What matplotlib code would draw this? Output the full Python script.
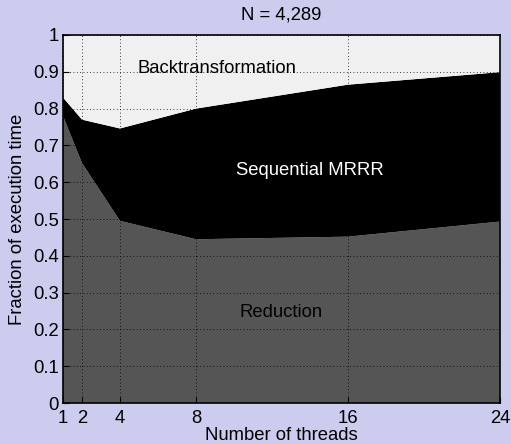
import matplotlib.pyplot as plt

# execution time breakdown, fraction of total (stacked)
threads = [1, 2, 4, 8, 16, 24]
reduction = [0.78, 0.652, 0.495, 0.445, 0.452, 0.493]
mrrr = [0.05, 0.118, 0.251, 0.355, 0.413, 0.406]
backtrans = [0.17, 0.23, 0.254, 0.20, 0.135, 0.101]

plt.rcParams['font.family'] = ['Liberation Sans', 'DejaVu Sans']
plt.rcParams['font.size'] = 13.3

fig = plt.figure(figsize=(5.11, 4.44), dpi=100, facecolor='#ccccee')
ax = fig.add_axes([0.1233, 0.0923, 0.855, 0.8289])

ax.stackplot(threads, reduction, mrrr, backtrans,
             colors=['#555555', '#000000', '#f0f0f0'], linewidth=0)

ax.set_xlim(1, 24)
ax.set_ylim(0, 1)
ax.set_xticks(threads)
ax.set_yticks([i / 10 for i in range(11)])
ax.set_yticklabels(['0', '0.1', '0.2', '0.3', '0.4', '0.5', '0.6', '0.7', '0.8', '0.9', '1'])
ax.tick_params(direction='in', length=4, width=0.8, colors='black')
ax.tick_params(axis='x', pad=5)
ax.tick_params(axis='y', pad=3)
ax.grid(True, color='black', linestyle=(0, (1, 3)), linewidth=0.6)
ax.set_axisbelow(False)
for s in ax.spines.values():
    s.set_linewidth(1.2)

ax.text(9.1, 0.91, 'Backtransformation', ha='center', va='center', color='black')
ax.text(14.0, 0.633, 'Sequential MRRR', ha='center', va='center', color='white')
ax.text(12.47, 0.245, 'Reduction', ha='center', va='center', color='black')

ax.set_title('N = 4,289', fontsize=13.3, pad=11)
ax.set_xlabel('Number of threads', labelpad=0)
ax.set_ylabel('Fraction of execution time', labelpad=5)

fig.savefig('out.png', dpi=100, facecolor=fig.get_facecolor())
